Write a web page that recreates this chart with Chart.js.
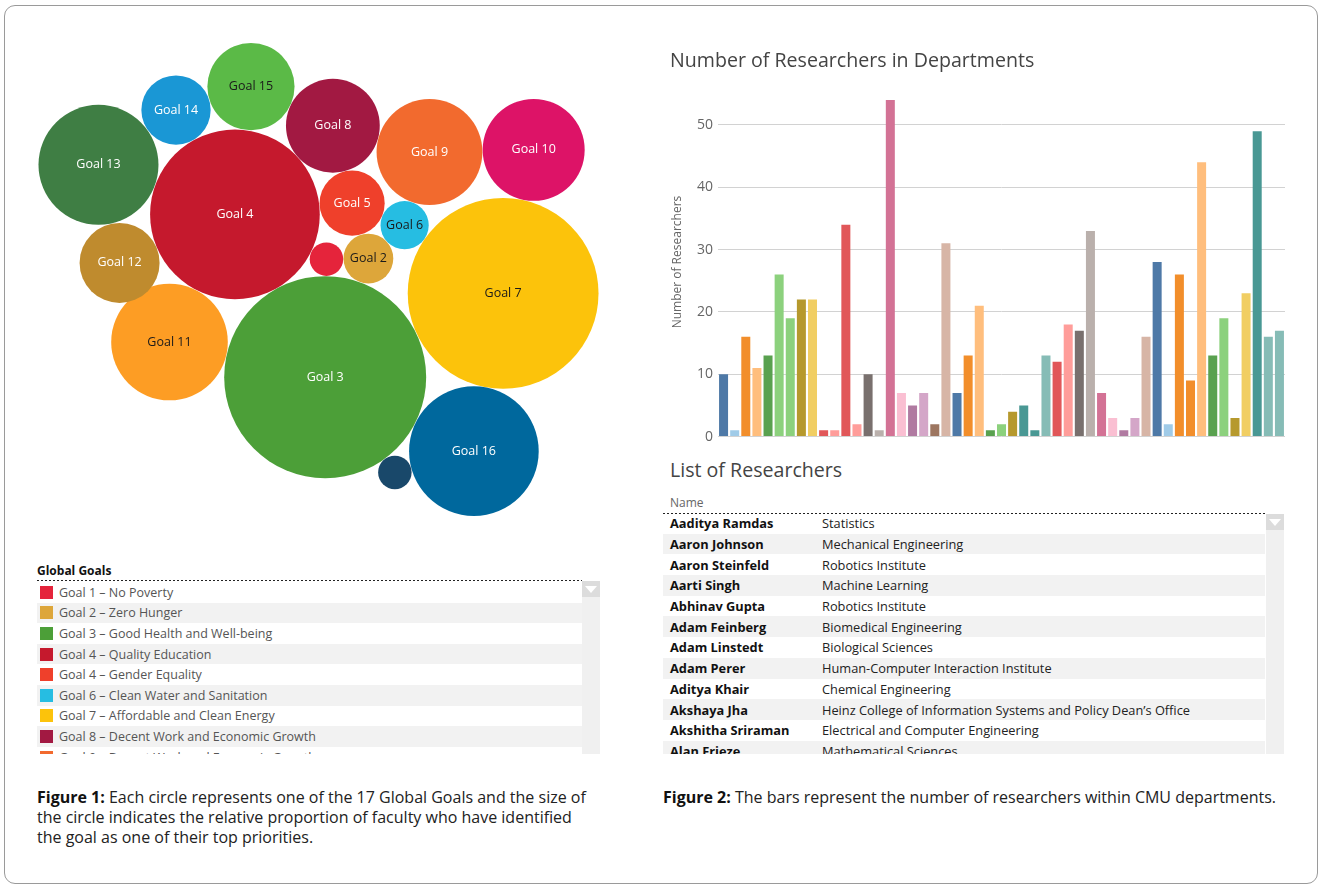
<!DOCTYPE html>
<html><head><meta charset="utf-8">
<script src="https://cdn.jsdelivr.net/npm/chart.js@4.4.1/dist/chart.umd.min.js"></script>
<style>
html,body{margin:0;padding:0;background:#fff;}
body{width:1320px;height:886px;position:relative;overflow:hidden;font-family:'Open Sans',sans-serif;}
.abs{position:absolute;}
.frame{left:4px;top:5px;width:1314px;height:879px;border:1px solid #9a9a9a;border-radius:11px;box-sizing:border-box;}
.rule{height:1px;background:repeating-linear-gradient(to right,#222 0 2px,transparent 2px 4px);}
.gg-title{left:37px;top:562px;font-size:12px;font-weight:700;color:#111;}
.gg-list{left:37px;top:582px;width:545px;height:172px;overflow:hidden;}
.gg-row{height:20.6px;display:flex;align-items:center;font-size:12.5px;color:#555;white-space:nowrap;}
.gg-row:nth-child(even){background:#f2f2f2;}
.sw{width:13px;height:13px;margin:0 6px 0 3px;flex:none;}
.scroll{background:#f0f0f0;width:18px;}
.scroll .btn{height:16px;background:#dcdcdc;position:relative;}
.scroll .btn:after{content:'';position:absolute;left:3px;top:5px;border-left:6px solid transparent;border-right:6px solid transparent;border-top:7px solid #fff;}
.rl-title{left:670px;top:456px;font-size:19.6px;color:#444;}
.rl-head{left:670px;top:494px;font-size:12px;color:#666;}
.rl-list{left:663px;top:513px;width:602px;height:241px;overflow:hidden;}
.rl-row{height:20.7px;display:flex;align-items:center;font-size:12.8px;white-space:nowrap;}
.rl-row:nth-child(even){background:#f2f2f2;}
.rl-row .n{width:159px;padding-left:7px;box-sizing:border-box;font-weight:700;color:#111;}
.rl-row .d{color:#222;}
.cap{font-size:16px;line-height:20px;color:#222;white-space:nowrap;}
.cap b{color:#111;}
</style></head>
<body>
<div class="abs frame"></div>
<canvas id="bubbles" class="abs" style="left:20px;top:30px;" width="600" height="510"></canvas>
<canvas id="bars" class="abs" style="left:660px;top:40px;" width="630" height="410"></canvas>

<div class="abs gg-title">Global Goals</div>
<div class="abs rule" style="left:37px;top:580px;width:545px;"></div>
<div class="abs gg-list" id="ggList"></div>
<div class="abs scroll" style="left:582px;top:581px;height:173px;"><div class="btn"></div></div>

<div class="abs rl-title">List of Researchers</div>
<div class="abs rl-head">Name</div>
<div class="abs rule" style="left:663px;top:513px;width:602px;"></div>
<div class="abs rl-list" id="rlList"></div>
<div class="abs scroll" style="left:1266px;top:514px;height:240px;"><div class="btn"></div></div>

<div class="abs cap" style="left:37px;top:787px;"><b>Figure 1:</b> Each circle represents one of the 17 Global Goals and the size of<br>the circle indicates the relative proportion of faculty who have identified<br>the goal as one of their top priorities.</div>
<div class="abs cap" style="left:663px;top:787px;"><b>Figure 2:</b> The bars represent the number of researchers within CMU departments.</div>

<script>
// ---------------- DATA ----------------
const goalNames = ['Goal 1','Goal 2','Goal 3','Goal 4','Goal 5','Goal 6','Goal 7','Goal 8','Goal 9','Goal 10','Goal 11','Goal 12','Goal 13','Goal 14','Goal 15','Goal 16','Goal 17'];
const goalValues = [2.8, 6.2, 102, 72, 10.6, 5.8, 91, 22, 28, 26, 34, 16, 36, 12, 19, 42, 2.8];
const goalLegend = ['Goal 1 – No Poverty','Goal 2 – Zero Hunger','Goal 3 – Good Health and Well-being','Goal 4 – Quality Education','Goal 4 – Gender Equality','Goal 6 – Clean Water and Sanitation','Goal 7 – Affordable and Clean Energy','Goal 8 – Decent Work and Economic Growth','Goal 9 – Decent Work and Economic Growth'];

const researcherCounts = [10,1,16,11,13,26,19,22,22,1,1,34,2,10,1,54,7,5,7,2,31,7,13,21,1,2,4,5,1,13,12,18,17,33,7,3,1,3,16,28,2,26,9,44,13,19,3,23,49,16,17];
const deptLabels = researcherCounts.map((_, i) => 'Department ' + (i + 1));
const yTickStep = 10;

const researcherNames = ['Aaditya Ramdas','Aaron Johnson','Aaron Steinfeld','Aarti Singh','Abhinav Gupta','Adam Feinberg','Adam Linstedt','Adam Perer','Aditya Khair','Akshaya Jha','Akshitha Sriraman','Alan Frieze'];
const researcherDepts = ['Statistics','Mechanical Engineering','Robotics Institute','Machine Learning','Robotics Institute','Biomedical Engineering','Biological Sciences','Human-Computer Interaction Institute','Chemical Engineering','Heinz College of Information Systems and Policy Dean’s Office','Electrical and Computer Engineering','Mathematical Sciences'];

// ---------------- STYLES ----------------
const goalColors = ['#E5243B','#DDA63A','#4C9F38','#C5192D','#EF402B','#26BDE2','#FCC30B','#A21942','#F26A2E','#DD1367','#FD9D24','#BF8B2E','#3F7E44','#1A97D5','#5BBA47','#00689D','#19486A'];
const legendColors = ['#E5243B','#DDA63A','#4C9F38','#C5192D','#EF402B','#26BDE2','#FCC30B','#A21942','#F26A2E'];
const darkLabelGoals = [2, 6, 7, 11, 15];
const palette = {blue:'#4E79A7',ltblue:'#A0CBE8',orange:'#F28E2B',ltorange:'#FFBE7D',green:'#59A14F',ltgreen:'#8CD17D',olive:'#B6992D',yellow:'#F1CE63',teal:'#499894',ltteal:'#86BCB6',red:'#E15759',ltred:'#FF9D9A',gray:'#79706E',ltgray:'#BAB0AC',pink:'#D37295',ltpink:'#FABFD2',purple:'#B07AA1',ltpurple:'#D4A6C8',brown:'#9D7660',ltbrown:'#D7B5A6'};
const barColorKeys = ['blue','ltblue','orange','ltorange','green','ltgreen','ltgreen','olive','yellow','red','ltred','red','ltred','gray','ltgray','pink','ltpink','purple','ltpurple','brown','ltbrown','blue','orange','ltorange','green','ltgreen','olive','teal','teal','ltteal','red','ltred','gray','ltgray','pink','ltpink','purple','ltpurple','ltbrown','blue','ltblue','orange','orange','ltorange','green','ltgreen','olive','yellow','teal','ltteal','ltteal'];

// ---------------- PACK LAYOUT RECIPE (tangency, not coordinates) ----------------
const packSeedAngle = -119.0; // direction of Goal 4 from Goal 3
const packGap = 0.03;
const packSteps = [[1,4,3,-1],[2,3,1,1],[5,4,2,-1],[6,5,2,-1],[7,3,6,1],[8,4,5,-1],[9,8,6,-1],[10,9,7,-1],[16,3,7,1],[17,3,16,1],[15,4,8,-1],[14,4,15,-1],[13,4,14,-1],[12,4,13,-1],[11,4,3,1]];

function packGoals(){
  const r = goalValues.map(v => Math.sqrt(v));
  const gap = packGap;
  const pos = {};
  pos[3] = {x:0, y:0};
  const a = packSeedAngle * Math.PI / 180, d0 = r[2] + r[3] + gap;
  pos[4] = {x: Math.cos(a) * d0, y: Math.sin(a) * d0};
  for (const [g, ga, gb, side] of packSteps) {
    const A = pos[ga], B = pos[gb];
    const ra = r[ga-1] + r[g-1] + gap, rb = r[gb-1] + r[g-1] + gap;
    const dx = B.x - A.x, dy = B.y - A.y, dd = Math.hypot(dx, dy);
    const aa = (ra*ra - rb*rb + dd*dd) / (2*dd);
    const h = Math.sqrt(Math.max(0, ra*ra - aa*aa));
    const px = A.x + aa*dx/dd, py = A.y + aa*dy/dd;
    pos[g] = {x: px + side*h*(-dy)/dd, y: py + side*h*dx/dd};
  }
  const pts = goalNames.map((_, i) => ({x: pos[i+1].x, y: pos[i+1].y}));
  let x0 = Infinity, x1 = -Infinity, y0 = Infinity, y1 = -Infinity;
  pts.forEach((p, i) => { x0 = Math.min(x0, p.x - r[i]); x1 = Math.max(x1, p.x + r[i]); y0 = Math.min(y0, p.y - r[i]); y1 = Math.max(y1, p.y + r[i]); });
  return {pts, cx: (x0 + x1) / 2, cy: (y0 + y1) / 2};
}

// ---------------- HTML LISTS ----------------
document.getElementById('ggList').innerHTML = goalLegend.map((t, i) =>
  `<div class="gg-row"><span class="sw" style="background:${legendColors[i]}"></span>${t}</div>`).join('');
document.getElementById('rlList').innerHTML = researcherNames.map((n, i) =>
  `<div class="rl-row"><span class="n">${n}</span><span class="d">${researcherDepts[i]}</span></div>`).join('');

// ---------------- BUBBLE CHART ----------------
const pack = packGoals();
const unitsPerPx = 0.1; // 10 px per unit
const bw = 600, bh = 510;
const bubbleCenter = {x: 298.5, y: 249.5};
const xMin = pack.cx - bubbleCenter.x * unitsPerPx, yMin = pack.cy - bubbleCenter.y * unitsPerPx;

function pxPerUnit(chart){
  const s = chart.scales && chart.scales.x;
  if (!s) return 10;
  const v = s.getPixelForValue(1) - s.getPixelForValue(0);
  return isFinite(v) && v > 0 ? v : 10;
}

const bubbleLabels = {
  id: 'bubbleLabels',
  afterDatasetsDraw(chart){
    const ctx = chart.ctx, meta = chart.getDatasetMeta(0);
    ctx.save();
    ctx.font = '12.5px "Open Sans"';
    ctx.textAlign = 'center';
    ctx.textBaseline = 'middle';
    meta.data.forEach((el, i) => {
      const rad = Math.sqrt(goalValues[i]) * pxPerUnit(chart);
      if (rad < 20) return;
      ctx.fillStyle = darkLabelGoals.includes(i + 1) ? '#1a1a1a' : '#ffffff';
      ctx.fillText(goalNames[i], el.x, el.y);
    });
    ctx.restore();
  }
};

new Chart(document.getElementById('bubbles'), {
  type: 'bubble',
  data: {labels: goalNames, datasets: [{
    data: pack.pts,
    backgroundColor: goalColors,
    borderWidth: 0,
    hoverRadius: 0,
    radius: ctx => Math.sqrt(goalValues[ctx.dataIndex]) * pxPerUnit(ctx.chart)
  }]},
  options: {
    responsive: false, animation: false, devicePixelRatio: 1, events: [],
    layout: {padding: 0, autoPadding: false},
    plugins: {legend: {display: false}, tooltip: {enabled: false}},
    scales: {
      x: {type: 'linear', display: false, min: xMin, max: xMin + bw * unitsPerPx},
      y: {type: 'linear', display: false, reverse: true, min: yMin, max: yMin + bh * unitsPerPx}
    }
  },
  plugins: [bubbleLabels]
});

// ---------------- BAR CHART ----------------
new Chart(document.getElementById('bars'), {
  type: 'bar',
  data: {labels: deptLabels, datasets: [{
    data: researcherCounts,
    backgroundColor: barColorKeys.map(k => palette[k]),
    borderWidth: 0,
    barPercentage: 0.81,
    categoryPercentage: 1
  }]},
  options: {
    responsive: false, animation: false, devicePixelRatio: 1, events: [],
    layout: {padding: {left: 10, right: 5, top: 0, bottom: 12}},
    plugins: {
      legend: {display: false}, tooltip: {enabled: false},
      title: {display: true, text: 'Number of Researchers in Departments', align: 'start', color: '#444',
        font: {family: 'Open Sans', size: 19.6, weight: 'normal'}, padding: {top: 10, bottom: 14}}
    },
    scales: {
      x: {display: false},
      y: {
        min: 0, max: 56,
        afterBuildTicks: s => { s.ticks = s.ticks.filter(t => t.value % yTickStep === 0); },
        afterFit: s => { s.width = 48; },
        grid: {color: '#d2d2d2', drawTicks: false},
        border: {display: false},
        ticks: {stepSize: yTickStep, padding: 5, color: '#666', font: {family: 'Open Sans', size: 14}},
        title: {display: true, text: 'Number of Researchers', color: '#666', font: {family: 'Open Sans', size: 12}, padding: {top: 0, bottom: 0}}
      }
    }
  }
});
</script>
</body></html>
